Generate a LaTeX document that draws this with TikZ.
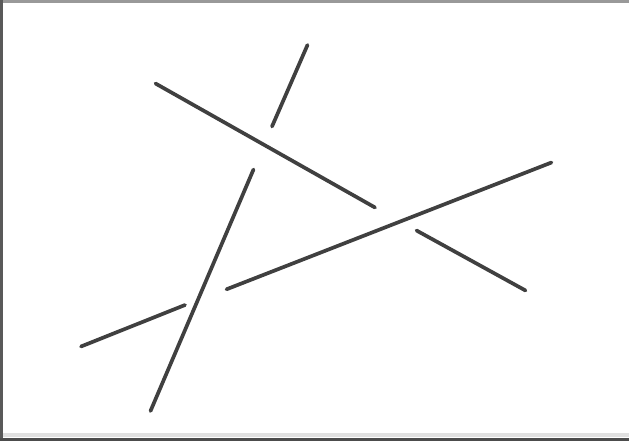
\documentclass[tikz,border=0pt]{standalone}
\begin{document}
\begin{tikzpicture}[x=1pt,y=-1pt,
  stroke/.style={draw=black!75, line width=3.7pt, line cap=round},
  frametop/.style={fill=black!40},
  frameleft/.style={fill=black!65},
  framebot/.style={fill=black!70},
  framebotlight/.style={fill=black!12}]
\useasboundingbox (0,0) rectangle (629,441);
\fill[white] (0,0) rectangle (629,441);
% frame
\fill[frametop] (0,0) rectangle (629,3);
\fill[frameleft] (0,0) rectangle (3,438);
\fill[framebotlight] (3,433) rectangle (629,437);
\fill[framebot] (0,438) rectangle (629,441);
% end points
\coordinate (a1) at (307.5,45);
\coordinate (a2) at (272,126.5);
\coordinate (b1) at (155.5,83.5);
\coordinate (b2) at (375,207.5);
\coordinate (c1) at (253.5,169.5);
\coordinate (c2) at (150.5,411);
\coordinate (d1) at (226.5,289.3);
\coordinate (d2) at (551.5,162.5);
\coordinate (e1) at (416.5,230.5);
\coordinate (e2) at (525.5,290.5);
\coordinate (f1) at (81,346.5);
\coordinate (f2) at (185,305);
% lines
\draw[stroke] (a1) -- (a2);
\draw[stroke] (b1) -- (b2);
\draw[stroke] (c1) -- (c2);
\draw[stroke] (d1) -- (d2);
\draw[stroke] (e1) -- (e2);
\draw[stroke] (f1) -- (f2);
\end{tikzpicture}
\end{document}
